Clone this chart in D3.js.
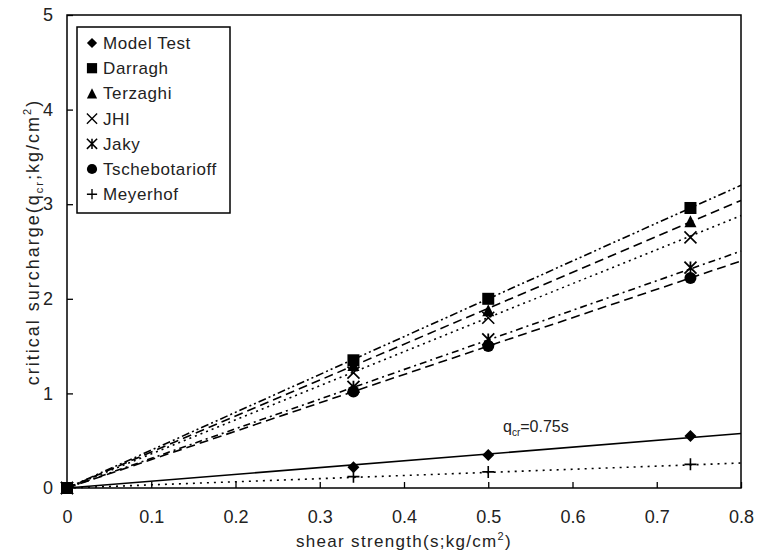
<!DOCTYPE html>
<html>
<head>
<meta charset="utf-8">
<script src="https://cdn.jsdelivr.net/npm/d3@7"></script>
<style>
  body { margin: 0; background: #fff; }
  svg { font-family: "Liberation Sans", Arial, sans-serif; }
</style>
</head>
<body>
<svg id="chart" width="758" height="553"></svg>
<script>
// measured points (s in kg/cm2)
const xValues = [0, 0.34, 0.5, 0.74];
const seriesNames = ["Model Test", "Darragh", "Terzaghi", "JHI", "Jaky", "Tschebotarioff", "Meyerhof"];
const modelTest = [0, 0.22, 0.35, 0.55];
const darragh = [0, 1.35, 2.0, 2.96];
const terzaghi = [0, 1.3, 1.88, 2.82];
const jhi = [0, 1.22, 1.8, 2.65];
const jaky = [0, 1.07, 1.57, 2.33];
const tsche = [0, 1.02, 1.5, 2.22];
const meyerhof = [0, 0.12, 0.17, 0.25];
// slopes of the fitted lines drawn through the origin
const fitSlopes = [0.72, 4.0, 3.8, 3.6, 3.13, 3.0, 0.33];
const xTicks = [0, 0.1, 0.2, 0.3, 0.4, 0.5, 0.6, 0.7, 0.8];
const yTicks = [0, 1, 2, 3, 4, 5];

const seriesValues = [modelTest, darragh, terzaghi, jhi, jaky, tsche, meyerhof];
const symbols = ["diamond", "square", "triangle", "x", "asterisk", "circle", "plus"];
const dashes = [null, "8,3,2,3,2,3", "9,5", "2,4", "7,4,2,4", "9,5", "2,5"];

const svg = d3.select("#chart");
const margin = { left: 67, right: 17, top: 15, bottom: 65 };
const width = 758 - margin.left - margin.right;
const height = 553 - margin.top - margin.bottom;

const x = d3.scaleLinear().domain([0, 0.8]).range([margin.left, margin.left + width]);
const y = d3.scaleLinear().domain([0, 5]).range([margin.top + height, margin.top]);

// frame
svg.append("rect")
	.attr("x", margin.left).attr("y", margin.top)
	.attr("width", width).attr("height", height)
	.attr("fill", "none").attr("stroke", "#000").attr("stroke-width", 1.5);

// axes, ticks pointing inward
const xAxis = svg.append("g")
	.attr("transform", `translate(0,${margin.top + height})`)
	.call(d3.axisBottom(x).tickValues(xTicks).tickSize(-6).tickPadding(22)
		.tickFormat((d) => (d === 0 ? "0" : d3.format(".1f")(d))));
const yAxis = svg.append("g")
	.attr("transform", `translate(${margin.left},0)`)
	.call(d3.axisLeft(y).tickValues(yTicks).tickSize(-6).tickPadding(14)
		.tickFormat(d3.format("d")));
for (const ax of [xAxis, yAxis]) {
	ax.select(".domain").remove();
	ax.selectAll("line").attr("stroke", "#000").attr("stroke-width", 1.3);
	ax.selectAll("text").attr("font-size", 18).attr("fill", "#222")
		.attr("font-family", "Liberation Sans, Arial, sans-serif");
}

// axis titles
const xt = svg.append("text")
	.attr("x", x(0.4)).attr("y", 547)
	.attr("text-anchor", "middle").attr("font-size", 17)
	.attr("letter-spacing", 1.3).attr("fill", "#222");
xt.append("tspan").text("shear strength(s;kg/cm");
xt.append("tspan").attr("font-size", 11).attr("dy", -7).text("2");
xt.append("tspan").attr("dy", 7).text(")");

const yt = svg.append("text")
	.attr("transform", `translate(39,${y(2.6)}) rotate(-90)`)
	.attr("text-anchor", "middle").attr("font-size", 18)
	.attr("letter-spacing", 2).attr("fill", "#222");
yt.append("tspan").text("critical surcharge(q");
yt.append("tspan").attr("font-size", 11).attr("dy", 4).text("cr");
yt.append("tspan").attr("dy", -4).text(";kg/cm");
yt.append("tspan").attr("font-size", 11).attr("dy", -8).text("2");
yt.append("tspan").attr("dy", 8).text(")");

// fitted lines
const line = d3.line().x((d) => x(d[0])).y((d) => y(d[1]));
svg.append("g")
	.selectAll("path")
	.data(fitSlopes.map((k, i) => ({ k, i })))
	.join("path")
	.attr("d", (d) => line([[0, 0], [0.8, d.k * 0.8]]))
	.attr("fill", "none")
	.attr("stroke", "#000")
	.attr("stroke-width", 1.6)
	.attr("stroke-dasharray", (d) => dashes[d.i]);

// markers
function drawSymbol(g, type) {
	const s = 6;
	if (type === "diamond") {
		g.append("path").attr("d", `M0,${-s}L${s},0L0,${s}L${-s},0Z`).attr("fill", "#000");
	} else if (type === "square") {
		g.append("rect").attr("x", -s).attr("y", -s).attr("width", 2 * s).attr("height", 2 * s).attr("fill", "#000");
	} else if (type === "triangle") {
		g.append("path").attr("d", `M0,${-s}L${s},${s}L${-s},${s}Z`).attr("fill", "#000");
	} else if (type === "circle") {
		g.append("circle").attr("r", s).attr("fill", "#000");
	} else if (type === "x") {
		g.append("path").attr("d", `M${-s},${-s}L${s},${s}M${-s},${s}L${s},${-s}`)
			.attr("stroke", "#000").attr("stroke-width", 1.6);
	} else if (type === "asterisk") {
		g.append("path").attr("d", `M${-s},${-s}L${s},${s}M${-s},${s}L${s},${-s}M0,${-s}L0,${s}`)
			.attr("stroke", "#000").attr("stroke-width", 1.8);
	} else if (type === "plus") {
		g.append("path").attr("d", `M${-s},0L${s},0M0,${-s}L0,${s}`)
			.attr("stroke", "#000").attr("stroke-width", 1.6);
	}
}

seriesValues.forEach((vals, i) => {
	vals.forEach((v, j) => {
		const g = svg.append("g").attr("transform", `translate(${x(xValues[j])},${y(v)})`);
		drawSymbol(g, symbols[i]);
	});
});

// annotation
const ann = svg.append("text")
	.attr("x", x(0.5175)).attr("y", y(0.59))
	.attr("font-size", 16).attr("fill", "#222");
ann.append("tspan").text("q");
ann.append("tspan").attr("font-size", 10).attr("dy", 4).text("cr");
ann.append("tspan").attr("dy", -4).text("=0.75s");

// legend
const legend = svg.append("g").attr("transform", "translate(77,27)");
legend.append("rect")
	.attr("width", 153).attr("height", 186)
	.attr("fill", "#fff").attr("stroke", "#000").attr("stroke-width", 1.5);
seriesNames.forEach((name, i) => {
	const row = legend.append("g").attr("transform", `translate(15,${16 + i * 25.2})`);
	const sym = row.append("g").attr("transform", "scale(0.85)");
	drawSymbol(sym, symbols[i]);
	row.append("text").attr("x", 11).attr("y", 6)
		.attr("font-size", 17).attr("letter-spacing", 0.6)
		.attr("fill", "#222").text(name);
});
</script>
</body>
</html>
